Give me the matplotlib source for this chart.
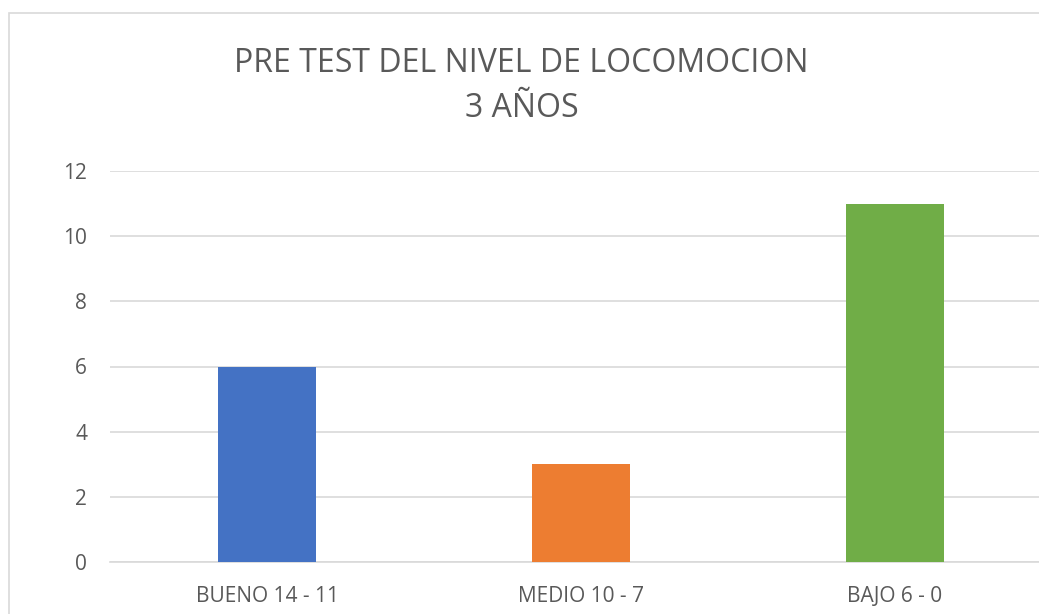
import matplotlib.pyplot as plt
from matplotlib.patches import Rectangle

# data
categories = ["BUENO 14 - 11", "MEDIO 10 - 7", "BAJO 6 - 0"]
values = [6, 3, 11]
colors = ["#4472C4", "#ED7D31", "#70AD47"]
yticks = [0, 2, 4, 6, 8, 10, 12]
title_lines = ["PRE TEST DEL NIVEL DE LOCOMOCION", "3 AÑOS"]

plt.rcParams['font.family'] = ['Open Sans', 'DejaVu Sans']

fig = plt.figure(figsize=(10.39, 6.14), dpi=100)

# chart area border (only top/left visible in the crop)
fig.patches.append(Rectangle((9 / 1039, -0.1), 1.2, 1 - 13 / 614 + 0.1,
                             transform=fig.transFigure, fill=False,
                             edgecolor="#d9d9d9", linewidth=1.2))

ax = fig.add_axes([110 / 1039, 1 - 562 / 614, 942 / 1039, 391 / 614])
x = range(len(categories))
ax.bar(x, values, width=0.315, color=colors, zorder=3)

ax.set_xlim(-0.5, 2.5)
ax.set_ylim(0, 12)
ax.set_yticks(yticks)
ax.set_xticks(list(x))
ax.set_xticklabels(categories)
ax.grid(axis='y', color="#d9d9d9", linewidth=1.2, zorder=0)
for s in ['top', 'right', 'left']:
    ax.spines[s].set_visible(False)
ax.spines['bottom'].set_color("#d9d9d9")
ax.spines['bottom'].set_linewidth(1.2)
ax.tick_params(axis='both', length=0, labelsize=15, colors="#595959")
ax.tick_params(axis='y', pad=16.5)
ax.tick_params(axis='x', pad=17)

# two-line title, baselines placed separately
fig.text(0.502, 1 - 72 / 614, title_lines[0], ha='center', va='baseline',
         fontsize=23, color="#595959")
fig.text(0.502, 1 - 117 / 614, title_lines[1], ha='center', va='baseline',
         fontsize=23, color="#595959")

fig.savefig("out.png", dpi=100)
